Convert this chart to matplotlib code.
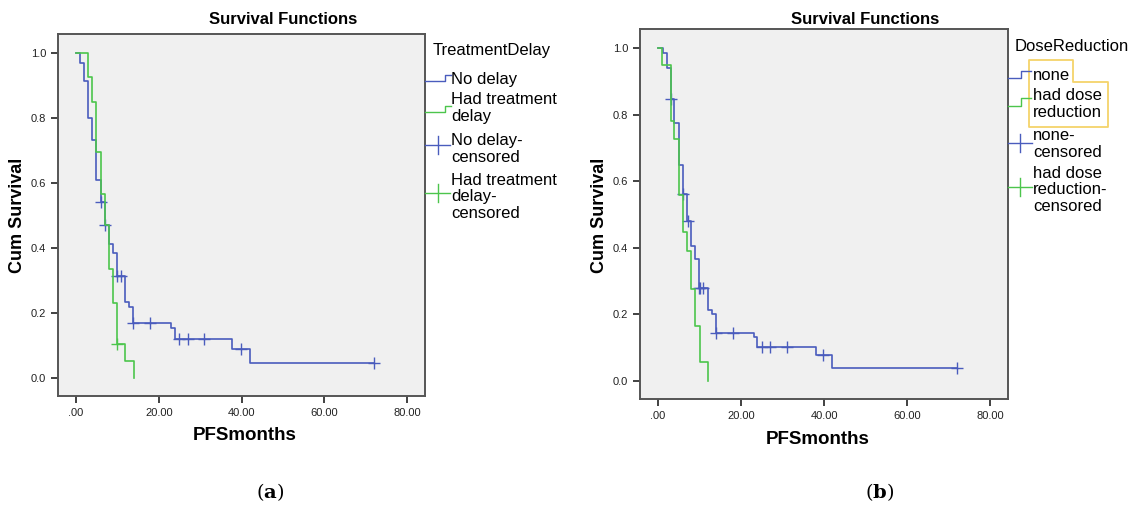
import numpy as np
import matplotlib.pyplot as plt
from matplotlib.patches import Polygon

plt.rcParams['font.family'] = ['Liberation Sans', 'DejaVu Sans']
plt.rcParams['mathtext.fontset'] = 'dejavuserif'

# (a) Treatment delay
a_blue_t = [0, 1.0, 1.9, 3.0, 3.9, 4.8, 6.0, 7.0, 8.0, 9.0, 10.0, 11.9, 12.9, 13.8, 22.9, 23.9, 37.8, 42.0, 72.0]
a_blue_s = [1.0, 0.968, 0.912, 0.80, 0.732, 0.609, 0.54, 0.47, 0.411, 0.386, 0.314, 0.235, 0.22, 0.17, 0.155, 0.119, 0.089, 0.045, 0.045]
a_blue_cens = [6.0, 7.0, 10.0, 10.9, 13.8, 17.9, 24.9, 27.0, 31.0, 39.9, 72.0]
a_green_t = [0, 3.0, 3.9, 4.8, 6.0, 7.0, 8.0, 9.0, 10.0, 11.9, 14.0]
a_green_s = [1.0, 0.927, 0.85, 0.694, 0.566, 0.47, 0.335, 0.232, 0.104, 0.052, 0.0]
a_green_cens = [10.0]

# (b) Dose reduction
b_blue_t = [0, 1.2, 2.1, 3.0, 3.9, 5.0, 5.9, 6.9, 8.0, 8.9, 9.8, 12.0, 12.9, 14.0, 23.0, 23.9, 38.0, 42.0, 72.0]
b_blue_s = [1.0, 0.985, 0.942, 0.848, 0.776, 0.648, 0.563, 0.48, 0.405, 0.367, 0.279, 0.214, 0.2, 0.144, 0.133, 0.102, 0.077, 0.038, 0.038]
b_blue_cens = [3.0, 5.9, 7.2, 9.8, 10.2, 10.8, 14.0, 18.0, 25.0, 27.0, 31.0, 39.8, 72.0]
b_green_t = [0, 1.0, 3.0, 3.9, 5.0, 5.9, 6.9, 8.0, 9.0, 10.0, 12.0]
b_green_s = [1.0, 0.949, 0.78, 0.726, 0.56, 0.447, 0.39, 0.277, 0.166, 0.055, 0.0]
b_green_cens = []

x_ticks = [0, 20, 40, 60, 80]
x_labels = ['.00', '20.00', '40.00', '60.00', '80.00']
y_ticks = [0.0, 0.2, 0.4, 0.6, 0.8, 1.0]
y_labels = ['0.0', '0.2', '0.4', '0.6', '0.8', '1.0']

BLUE = '#4a5cbd'
GREEN = '#4cc54c'
W, H = 1140, 508


def fx(x):
    return x / W


def fy(y):
    return 1 - y / H


def surv_at(t, s, tc):
    i = np.searchsorted(t, tc, side='right') - 1
    return s[i]


def draw_panel(rect, blue, green):
    ax = fig.add_axes(rect)
    ax.set_facecolor('#f0f0f0')
    for t, s, cens, col in (blue + (BLUE,), green + (GREEN,)):
        ax.step(t, s, where='post', color=col, lw=1.2)
        cy = [surv_at(np.array(t), np.array(s), c) for c in cens]
        ax.plot(cens, cy, ls='none', marker='+', ms=8, mew=1.0, color=col)
    ax.set_xlim(-4.35, 84.3)
    ax.set_ylim(-0.055, 1.058)
    ax.set_xticks(x_ticks)
    ax.set_xticklabels(x_labels)
    ax.set_yticks(y_ticks)
    ax.set_yticklabels(y_labels)
    ax.tick_params(direction='out', length=5, width=1.3, colors='#333333', labelsize=8,
                   labelcolor='#222222', top=False, right=False)
    for sp in ax.spines.values():
        sp.set_color('#555555')
        sp.set_linewidth(1.4)
    return ax


fig = plt.figure(figsize=(W / 100, H / 100), dpi=100)

draw_panel([fx(58), fy(396), (425 - 58) / W, (396 - 34) / H],
           (a_blue_t, a_blue_s, a_blue_cens), (a_green_t, a_green_s, a_green_cens))
draw_panel([fx(640), fy(399), (1008 - 640) / W, (399 - 29) / H],
           (b_blue_t, b_blue_s, b_blue_cens), (b_green_t, b_green_s, b_green_cens))

# titles and axis labels
fig.text(fx(283), fy(20), 'Survival Functions', ha='center', va='center', fontsize=12, fontweight='bold')
fig.text(fx(865), fy(19), 'Survival Functions', ha='center', va='center', fontsize=12, fontweight='bold')
fig.text(fx(18), fy(215), 'Cum Survival', ha='center', va='center', rotation=90, fontsize=13, fontweight='bold')
fig.text(fx(600), fy(215), 'Cum Survival', ha='center', va='center', rotation=90, fontsize=13, fontweight='bold')
fig.text(fx(245), fy(436), 'PFSmonths', ha='center', va='center', fontsize=13.5, fontweight='bold')
fig.text(fx(818), fy(440), 'PFSmonths', ha='center', va='center', fontsize=13.5, fontweight='bold')

# captions
for cx, letter in ((270, 'a'), (880, 'b')):
    fig.text(fx(cx), fy(492), r'$(\mathbf{' + letter + '})$', ha='center', va='center', fontsize=14)


# legends
def step_icon(x0, x1, xm, ylo, yhi, col):
    fig.add_artist(plt.Line2D([fx(x0), fx(xm), fx(xm), fx(x1)], [fy(ylo), fy(ylo), fy(yhi), fy(yhi)],
                              color=col, lw=1.0, transform=fig.transFigure))


def plus_icon(x0, x1, y, col):
    xm = (x0 + x1) / 2
    fig.add_artist(plt.Line2D([fx(x0), fx(x1)], [fy(y), fy(y)], color=col, lw=1.0, transform=fig.transFigure))
    fig.add_artist(plt.Line2D([fx(xm), fx(xm)], [fy(y - 9), fy(y + 9)], color=col, lw=1.0,
                              transform=fig.transFigure))


LFS = 12
LS = 1.1
fig.text(fx(433), fy(51), 'TreatmentDelay', va='center', fontsize=LFS)
fig.text(fx(451), fy(80), 'No delay', va='center', fontsize=LFS)
fig.text(fx(451), fy(108), 'Had treatment\ndelay', va='center', fontsize=LFS, linespacing=LS)
fig.text(fx(451), fy(149), 'No delay-\ncensored', va='center', fontsize=LFS, linespacing=LS)
fig.text(fx(451), fy(197), 'Had treatment\ndelay-\ncensored', va='center', fontsize=LFS, linespacing=LS)
step_icon(425, 451, 445, 81, 75, BLUE)
step_icon(425, 451, 445, 112, 106, GREEN)
plus_icon(425, 450, 145, BLUE)
plus_icon(425, 450, 193, GREEN)

fig.text(fx(1015), fy(46), 'DoseReduction', va='center', fontsize=LFS)
fig.text(fx(1033), fy(75), 'none', va='center', fontsize=LFS)
fig.text(fx(1033), fy(104), 'had dose\nreduction', va='center', fontsize=LFS, linespacing=LS)
fig.text(fx(1033), fy(144), 'none-\ncensored', va='center', fontsize=LFS, linespacing=LS)
fig.text(fx(1033), fy(190), 'had dose\nreduction-\ncensored', va='center', fontsize=LFS, linespacing=LS)
step_icon(1008, 1031, 1021, 78, 71, BLUE)
step_icon(1008, 1031, 1021, 106, 98, GREEN)
plus_icon(1008, 1032, 143, BLUE)
plus_icon(1008, 1032, 187, GREEN)

# highlight outline around first two legend entries
hl = [(1029, 60), (1073, 60), (1073, 82), (1108, 82), (1108, 127), (1029, 127)]
fig.add_artist(Polygon([(fx(x), fy(y)) for x, y in hl], closed=True, fill=False, ec='#f5d36a', lw=1.3,
                       joinstyle='round', transform=fig.transFigure))

fig.savefig('out.png', dpi=100)
